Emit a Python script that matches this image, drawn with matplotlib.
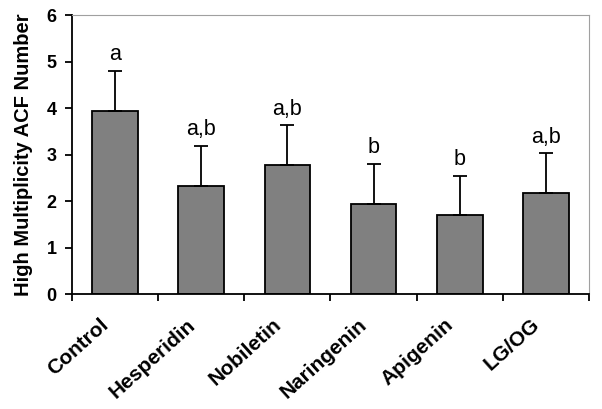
import matplotlib
matplotlib.use('Agg')
import matplotlib.pyplot as plt
import matplotlib.transforms as mtransforms
import numpy as np

plt.rcParams['font.family'] = ['Liberation Sans', 'DejaVu Sans']

groups = ['Control', 'Hesperidin', 'Nobiletin', 'Naringenin', 'Apigenin', 'LG/OG']
means = [3.94, 2.33, 2.77, 1.94, 1.70, 2.18]
errs = [0.86, 0.86, 0.86, 0.86, 0.84, 0.85]
letters = ['a', 'a,b', 'a,b', 'b', 'b', 'a,b']

fig = plt.figure(figsize=(6.02, 4.09), dpi=100)
ax = fig.add_axes([0.1196, 0.281, 0.8588, 0.682])

x = np.arange(len(groups))
ax.bar(x, means, width=0.53, color='#808080', edgecolor='black', linewidth=1.3, zorder=2)
ax.errorbar(x, means, yerr=[np.zeros(len(errs)), errs], fmt='none', ecolor='black',
            elinewidth=1.3, capsize=5, capthick=1.3, zorder=3)

for xi, m, e, lab in zip(x, means, errs, letters):
    ax.text(xi, m + e + 0.12, lab, ha='center', va='bottom', fontsize=15.5)

ax.set_xlim(-0.5, len(groups) - 0.5)
ax.set_ylim(0, 6)
ax.set_yticks(range(0, 7))
ax.set_yticklabels([str(i) for i in range(0, 7)], fontsize=13, fontweight='bold')

# category labels, rotated, ending a bit left of the category centre
ax.set_xticks([])
ax.set_xticks(np.arange(-0.5, len(groups)), minor=True)
ax.tick_params(axis='x', which='minor', length=5, width=1.3, direction='out')
lab_tr = ax.get_xaxis_transform() + mtransforms.ScaledTranslation(-0.09, -0.28, fig.dpi_scale_trans)
for xi, g in zip(x, groups):
    ax.text(xi, 0, g, transform=lab_tr, rotation=42, ha='right', va='center',
            rotation_mode='anchor', fontsize=15, fontweight='bold')

ax.tick_params(axis='y', length=5, width=1.3, direction='out', pad=6)

ax.spines['left'].set_linewidth(1.3)
ax.spines['bottom'].set_linewidth(1.3)
ax.spines['top'].set_color('#a0a0a0')
ax.spines['right'].set_color('#a0a0a0')

ax.set_ylabel('High Multiplicity ACF Number', fontsize=14.5, fontweight='bold', labelpad=10)

fig.savefig('out.png', dpi=100)
